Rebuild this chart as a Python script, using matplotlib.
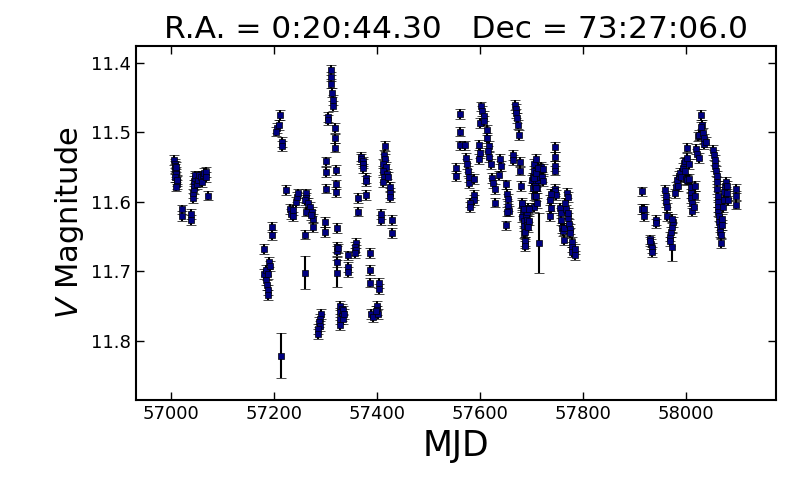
import matplotlib
matplotlib.use('Agg')
import matplotlib.pyplot as plt

# season 1 (2014-15)
mjd_s1 = [57006, 57007, 57008, 57007, 57009, 57010, 57008, 57011, 57012, 57010, 57012, 57009,
          57021, 57021, 57038, 57038,
          57042, 57043, 57044, 57044, 57045, 57046, 57047, 57050, 57052, 57054, 57058, 57060,
          57062, 57063, 57067, 57067, 57072]
mag_s1 = [11.540, 11.545, 11.548, 11.553, 11.557, 11.560, 11.565, 11.570, 11.575, 11.578, 11.568, 11.550,
          11.611, 11.620, 11.617, 11.626,
          11.594, 11.588, 11.582, 11.576, 11.570, 11.566, 11.562, 11.575, 11.568, 11.562, 11.565, 11.572,
          11.562, 11.558, 11.557, 11.564, 11.591]

# season 2 (2015-16)
mjd_s2 = [57181, 57195, 57195, 57190, 57181, 57185, 57188, 57185, 57186, 57188, 57188, 57192,
          57211, 57205, 57210, 57203, 57216, 57216,
          57223, 57231, 57232, 57237, 57236, 57242, 57244, 57246, 57261, 57262, 57260, 57266,
          57269, 57262, 57273, 57275, 57276, 57271, 57260,
          57299, 57299,
          57291, 57289, 57288, 57289, 57285, 57286,
          57310, 57310, 57310, 57313, 57315, 57315, 57305, 57305, 57318, 57318, 57318,
          57300, 57300, 57300, 57320, 57320, 57320, 57322, 57322, 57322, 57322, 57324,
          57328, 57331, 57328, 57334, 57331, 57327, 57333, 57328, 57335,
          57343, 57343, 57343,
          57358, 57357, 57358, 57357, 57362, 57362,
          57368, 57368, 57372, 57373, 57373, 57378, 57378, 57379,
          57386, 57386, 57386,
          57389, 57392, 57399, 57399, 57401, 57397, 57403, 57403,
          57407, 57407,
          57416, 57413, 57415, 57412, 57418, 57412, 57420, 57414, 57411, 57422, 57424, 57425,
          57424, 57428, 57429]
mag_s2 = [11.668, 11.636, 11.648, 11.686, 11.704, 11.698, 11.704, 11.713, 11.720, 11.727, 11.734, 11.692,
          11.475, 11.494, 11.490, 11.499, 11.514, 11.520,
          11.583, 11.610, 11.617, 11.612, 11.621, 11.600, 11.593, 11.588, 11.588, 11.595, 11.597, 11.602,
          11.607, 11.614, 11.614, 11.624, 11.636, 11.619, 11.647,
          11.629, 11.643,
          11.761, 11.768, 11.773, 11.778, 11.783, 11.790,
          11.411, 11.420, 11.430, 11.443, 11.454, 11.462, 11.478, 11.482, 11.494, 11.509, 11.522,
          11.542, 11.557, 11.581, 11.554, 11.575, 11.586, 11.638, 11.665, 11.671, 11.686, 11.667,
          11.749, 11.754, 11.759, 11.756, 11.764, 11.768, 11.768, 11.777, 11.761,
          11.677, 11.694, 11.701,
          11.659, 11.665, 11.669, 11.674, 11.594, 11.614,
          11.535, 11.539, 11.542, 11.545, 11.552, 11.566, 11.570, 11.590,
          11.674, 11.698, 11.716,
          11.761, 11.765, 11.749, 11.756, 11.761, 11.757, 11.717, 11.725,
          11.617, 11.626,
          11.520, 11.533, 11.538, 11.545, 11.550, 11.555, 11.560, 11.564, 11.571, 11.564, 11.578, 11.587,
          11.593, 11.626, 11.645]

# season 3 (2016-17)
mjd_s3 = [57553, 57553, 57561, 57561, 57561, 57570, 57572, 57575, 57577, 57578, 57578, 57588,
          57588, 57587, 57580, 57580, 57597, 57599, 57597, 57600, 57602, 57604, 57607, 57608,
          57613, 57614, 57617, 57616, 57618, 57620, 57622, 57625, 57628, 57629, 57637, 57639,
          57640, 57663, 57664, 57667, 57669, 57669, 57672, 57674, 57676, 57678, 57678, 57679,
          57651, 57652, 57653, 57654, 57656, 57652, 57651,
          57682, 57683, 57682, 57685, 57685, 57684, 57687, 57688, 57690, 57691, 57692,
          57700, 57702, 57704, 57705, 57708, 57703, 57705, 57708, 57710, 57713, 57716, 57717,
          57705, 57707, 57710,
          57681, 57684, 57686, 57686, 57687, 57690, 57693, 57695, 57695, 57705, 57709, 57713,
          57719, 57722, 57721, 57709, 57709, 57710,
          57745, 57745, 57746, 57746, 57745, 57746, 57748, 57737, 57735, 57737, 57735,
          57755, 57757, 57757, 57758, 57761, 57763, 57762, 57765, 57769, 57770, 57767, 57770,
          57772, 57775, 57775, 57778, 57779, 57779, 57783, 57783, 57771]
mag_s3 = [11.551, 11.563, 11.474, 11.499, 11.519, 11.519, 11.537, 11.546, 11.556, 11.564, 11.573, 11.567,
          11.590, 11.597, 11.601, 11.607, 11.518, 11.530, 11.539, 11.487, 11.463, 11.470, 11.477, 11.484,
          11.497, 11.508, 11.520, 11.527, 11.536, 11.546, 11.566, 11.573, 11.582, 11.601, 11.562, 11.538,
          11.549, 11.533, 11.540, 11.461, 11.466, 11.473, 11.480, 11.489, 11.504, 11.543, 11.555, 11.577,
          11.575, 11.589, 11.596, 11.606, 11.613, 11.614, 11.634,
          11.605, 11.614, 11.622, 11.628, 11.635, 11.645, 11.660, 11.619, 11.614, 11.626, 11.609,
          11.569, 11.565, 11.555, 11.546, 11.538, 11.580, 11.591, 11.572, 11.562, 11.569, 11.565, 11.550,
          11.608, 11.577, 11.580,
          11.602, 11.611, 11.643, 11.657, 11.664, 11.634, 11.636, 11.627, 11.611, 11.566, 11.558, 11.551,
          11.564, 11.553, 11.570, 11.580, 11.592, 11.602,
          11.521, 11.535, 11.548, 11.555, 11.582, 11.585, 11.590, 11.589, 11.597, 11.609, 11.620,
          11.609, 11.616, 11.626, 11.638, 11.642, 11.655, 11.638, 11.602, 11.587, 11.593, 11.611, 11.623,
          11.632, 11.639, 11.645, 11.658, 11.665, 11.672, 11.677, 11.668, 11.616]

# season 4 (2017-18)
mjd_s4 = [57914, 57914, 57917, 57917, 57930, 57931, 57933, 57933, 57929, 57941, 57941,
          57958, 57960, 57960, 57962, 57962, 57968, 57969, 57970, 57972, 57974, 57973,
          57978, 57979, 57982, 57984, 57985, 57988, 57990, 57993, 57995, 57998, 58002, 57997,
          57999, 58002, 58009, 58009, 58010, 58011, 58011, 58014, 58016, 58017, 58005, 58005,
          58002, 58019, 58021, 58024, 58023, 58024, 58029, 58031, 58032, 58034, 58035, 58038,
          58028, 58052, 58054, 58056, 58056, 58058, 58059, 58059, 58060, 58062, 58061, 58062,
          58062, 58064, 58064, 58065, 58065, 58067, 58067, 58069, 58070, 58072, 58073, 58073,
          58075, 58077, 58079, 58079, 58081, 58096, 58096, 58096]
mag_s4 = [11.585, 11.610, 11.610, 11.621, 11.654, 11.661, 11.666, 11.672, 11.657, 11.626, 11.631,
          11.583, 11.591, 11.600, 11.608, 11.621, 11.650, 11.657, 11.643, 11.636, 11.629, 11.624,
          11.588, 11.578, 11.569, 11.577, 11.563, 11.558, 11.565, 11.551, 11.544, 11.542, 11.522, 11.555,
          11.567, 11.569, 11.579, 11.588, 11.595, 11.602, 11.613, 11.607, 11.591, 11.577, 11.567, 11.546,
          11.537, 11.524, 11.531, 11.537, 11.506, 11.504, 11.475, 11.489, 11.501, 11.509, 11.517, 11.514,
          11.492, 11.526, 11.533, 11.540, 11.549, 11.556, 11.563, 11.572, 11.582, 11.591, 11.600, 11.607,
          11.614, 11.621, 11.629, 11.636, 11.643, 11.659, 11.647, 11.633, 11.624, 11.607, 11.598, 11.586,
          11.577, 11.572, 11.577, 11.588, 11.598, 11.581, 11.592, 11.604]

typical_err = 0.007

# points with larger errors
mjd_big = [57214, 57260, 57322, 57715, 57973]
mag_big = [11.821, 11.702, 11.703, 11.659, 11.665]
err_big = [0.032, 0.024, 0.019, 0.043, 0.020]

mjd = mjd_s1 + mjd_s2 + mjd_s3 + mjd_s4
mag = mag_s1 + mag_s2 + mag_s3 + mag_s4

fig = plt.figure(figsize=(8, 4.94), dpi=100)
ax = fig.add_axes([0.17, 0.19, 0.80, 0.717])

style = dict(fmt='s', color='navy', ecolor='black', mec='black', mew=0.5,
             ms=4.8, elinewidth=1.5, capsize=3.5, capthick=1.0)
ax.errorbar(mjd, mag, yerr=typical_err, **style)
ax.errorbar(mjd_big, mag_big, yerr=err_big, **style)

ax.set_xlim(56932, 58174)
ax.set_ylim(11.885, 11.376)
ax.set_xticks([57000, 57200, 57400, 57600, 57800, 58000])
ax.set_yticks([11.4, 11.5, 11.6, 11.7, 11.8])
ax.tick_params(direction='in', length=6, width=1, top=True, right=True, labelsize=13)
for s in ax.spines.values():
    s.set_linewidth(1.5)

ax.set_xlabel('MJD', fontsize=25)
ax.set_ylabel('$V$ Magnitude', fontsize=22)
ax.set_title('R.A. = 0:20:44.30   Dec = 73:27:06.0', fontsize=22.5)

fig.savefig('out.png', dpi=100)
